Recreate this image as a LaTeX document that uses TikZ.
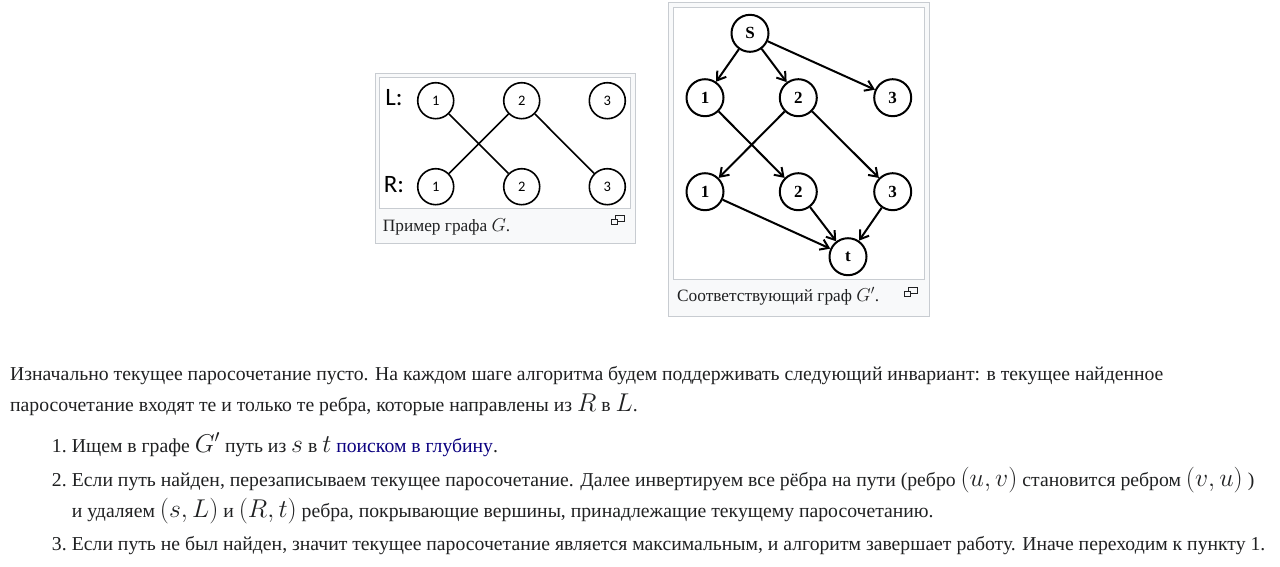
\documentclass[tikz,border=0pt]{standalone}
\usepackage{graphicx}
\usepackage[no-math]{fontspec}
\setmainfont{Liberation Serif}
\newfontfamily\lblfont{Carlito}
\usetikzlibrary{arrows.meta}
\definecolor{txtcol}{HTML}{202122}
\definecolor{linkcol}{HTML}{0B0080}
\definecolor{boxline}{HTML}{C8CCD1}
\definecolor{boxfill}{HTML}{F8F9FA}
\newcommand{\mth}[1]{\scalebox{1.24}{$#1$}}

\begin{document}
\begin{tikzpicture}[x=1pt, y=-1pt,
    gnode/.style={draw, circle, line width=1.6pt, minimum size=36pt, inner sep=0pt, font=\lblfont\fontsize{14.5}{14.5}\selectfont},
    dnode/.style={draw, circle, line width=2pt, minimum size=37pt, inner sep=0pt, font=\bfseries\fontsize{17}{17}\selectfont},
    side/.style={inner sep=0pt, font=\lblfont\fontsize{25}{25}\selectfont},
    txt/.style={anchor=base west, inner sep=0pt, text=txtcol, font=\fontsize{19.7}{22}\selectfont},
    capt/.style={anchor=base west, inner sep=0pt, text=txtcol, font=\fontsize{17.3}{18}\selectfont},
    edge/.style={line width=1.6pt},
    arc/.style={line width=2pt, -{Straight Barb[length=8pt, width=11pt]}}
  ]
  \useasboundingbox (0,0) rectangle (1280,566);
  \fill[white] (0,0) rectangle (1280,566);

  \draw[boxline, fill=boxfill] (375,73.5) rectangle (635.5,243.5);
  \draw[boxline, fill=white] (379.5,77.5) rectangle (630.5,208.5);

  \node[side] (G1LL) at (394,98) {L:};
  \node[side] (G1RR) at (394,185) {R:};
  \node[gnode] (G1L1) at (435.7,100.7) {1};
  \node[gnode] (G1L2) at (521.7,100.7) {2};
  \node[gnode] (G1L3) at (607.3,100.7) {3};
  \node[gnode] (G1R1) at (435.7,186.7) {1};
  \node[gnode] (G1R2) at (521.7,186.7) {2};
  \node[gnode] (G1R3) at (607.3,186.7) {3};

  \draw[edge] (G1L1) -- (G1R2);
  \draw[edge] (G1L2) -- (G1R1);
  \draw[edge] (G1L2) -- (G1R3);

  \node[capt] (C1) at (382.7,231.7) {Пример графа \scalebox{1.08}{$G$}.};
  \draw[txtcol, line width=1pt] (615,215.5) rectangle (624.5,221.5);
  \draw[txtcol, line width=1pt, fill=boxfill] (611.5,219.5) rectangle (617.5,224.5);

  \draw[boxline, fill=boxfill] (668.5,2.5) rectangle (929.5,316.5);
  \draw[boxline, fill=white] (673.5,7.5) rectangle (924.5,279.5);

  \node[dnode] (G2S) at (750,33.3) {S};
  \node[dnode] (G2L1) at (705,97.7) {1};
  \node[dnode] (G2L2) at (798.3,97.7) {2};
  \node[dnode] (G2L3) at (892.7,97.7) {3};
  \node[dnode] (G2R1) at (705,191.7) {1};
  \node[dnode] (G2R2) at (798.3,191.7) {2};
  \node[dnode] (G2R3) at (892.7,191.7) {3};
  \node[dnode] (G2T) at (848,256.7) {t};

  \draw[arc] (G2S) -- (G2L1);
  \draw[arc] (G2S) -- (G2L2);
  \draw[arc] (G2S) -- (G2L3);
  \draw[arc] (G2L1) -- (G2R2);
  \draw[arc] (G2L2) -- (G2R1);
  \draw[arc] (G2L2) -- (G2R3);
  \draw[arc] (G2R1) -- (G2T);
  \draw[arc] (G2R2) -- (G2T);
  \draw[arc] (G2R3) -- (G2T);

  \node[capt] (C2) at (677,301.7) {Соответствующий граф \scalebox{1.08}{$G'$}.};
  \draw[txtcol, line width=1pt] (908,287.5) rectangle (917.5,293.5);
  \draw[txtcol, line width=1pt, fill=boxfill] (904.5,291.5) rectangle (910.5,296.5);

  \node[txt] (T1) at (10,380.7) {Изначально текущее паросочетание пусто. На каждом шаге алгоритма будем поддерживать следующий инвариант: в текущее найденное};
  \node[txt] (T2) at (10,411.7) {паросочетание входят те и только те ребра, которые направлены из \mth{R} в \mth{L}.};
  \node[txt] (N1) at (51.7,452.3) {1.};
  \node[txt] (I1) at (71.7,452.3) {Ищем в графе \mth{G'} путь из \mth{s} в \mth{t} \textcolor{linkcol}{поиском в глубину}.};
  \node[txt] (N2) at (51.7,486) {2.};
  \node[txt] (I2) at (71.7,486) {Если путь найден, перезаписываем текущее паросочетание. Далее инвертируем все рёбра на пути (ребро \mth{(u,v)} становится ребром \mth{(v,u)} )};
  \node[txt] (I2b) at (71.7,517.3) {и удаляем \mth{(s,L)} и \mth{(R,t)} ребра, покрывающие вершины, принадлежащие текущему паросочетанию.};
  \node[txt] (N3) at (51.7,550) {3.};
  \node[txt] (I3) at (71.7,550) {Если путь не был найден, значит текущее паросочетание является максимальным, и алгоритм завершает работу. Иначе переходим к пункту 1.};
\end{tikzpicture}
\end{document}
